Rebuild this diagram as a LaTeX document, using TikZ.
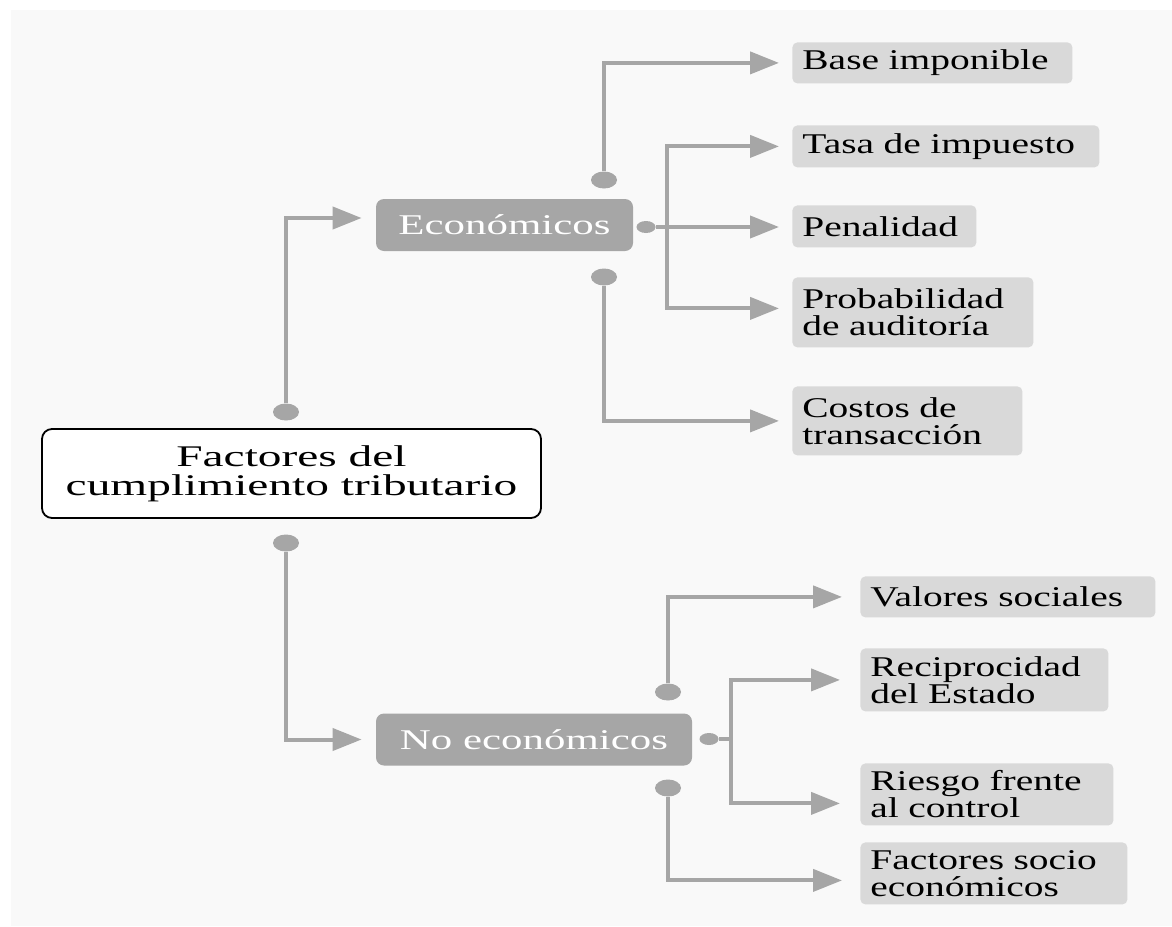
\documentclass[tikz,border=0pt]{standalone}
\usepackage{fontspec}
\setmainfont{Liberation Serif}
\newfontfamily\leaffont[FakeStretch=1.38]{Liberation Serif}
\newfontfamily\groupfont[FakeStretch=1.5]{Liberation Serif}
\newfontfamily\rootfont[FakeStretch=1.58]{Liberation Serif}
\usetikzlibrary{arrows.meta,shapes.geometric}
\definecolor{linkgray}{HTML}{A6A6A6}
\definecolor{leafgray}{HTML}{D9D9D9}
\definecolor{paper}{HTML}{F9F9F9}

\begin{document}
\begin{tikzpicture}[x=0.5pt,y=-0.5pt,
    linkline/.style={draw=linkgray,line width=2pt},
    link/.style={linkline,-{Triangle[length=14.5pt,width=11pt]}},
    knob/.style={ellipse,fill=linkgray,inner sep=0pt,minimum width=13pt,minimum height=8.5pt},
    knobsmall/.style={knob,minimum width=9.5pt,minimum height=6pt},
    rootbox/.style={draw=black,line width=0.9pt,fill=white,rounded corners=5pt,
        minimum width=249.5pt,minimum height=44.5pt,align=center,
        font=\rootfont\fontsize{15}{14.5}\selectfont},
    groupbox/.style={fill=linkgray,text=white,rounded corners=4pt,minimum height=26pt,
        font=\groupfont\fontsize{14.3}{13.5}\selectfont},
    leafbox/.style={fill=leafgray,rounded corners=2.5pt,inner xsep=5pt,inner ysep=0pt,
        align=left,anchor=north west,font=\leaffont\fontsize{14.3}{13.5}\selectfont}]
    %/ Background
    \fill[paper] (11,10) rectangle (1172,926);
    \useasboundingbox (0,0) rectangle (1172,926);

    %/ Main boxes
    \node[rootbox] (root) at (291.5,473.5) {Factores del\\cumplimiento tributario};
    \node[groupbox,minimum width=128.5pt] (eco) at (504.5,225) {Económicos};
    \node[groupbox,minimum width=158pt] (noeco) at (534,739.5) {No económicos};

    %/ Leaves
    \foreach \name/\x/\y/\tw/\bh/\txt in {
      base/792/42/130/20.5/Base imponible,
      tasa/792/125/143.5/21/Tasa de impuesto,
      pen/792/205/82/21/Penalidad,
      prob/792/277/110.5/35/Probabilidad\\de auditoría,
      costos/792/386/105/34.5/Costos de\\transacción,
      valores/860/576/137.5/20.5/Valores sociales,
      recip/860/648/114/31.5/Reciprocidad\\del Estado,
      riesgo/860/763/116.5/31/Riesgo frente\\al control,
      socio/860/842/123.5/31/Factores socio\\económicos}
    \node[leafbox,text width=\tw pt,minimum height=\bh pt] (\name) at (\x,\y) {\txt};

    %/ Dots
    \node[knob] (rootup) at (286,412) {};
    \node[knob] (rootdown) at (286,543) {};
    \node[knob] (ecoup) at (604,180) {};
    \node[knob] (ecodown) at (604,277) {};
    \node[knobsmall] (ecoside) at (646,227) {};
    \node[knob] (noecoup) at (668,692) {};
    \node[knob] (noecodown) at (668,788) {};
    \node[knobsmall] (noecoside) at (709,739) {};
    \coordinate (ecofork) at (667,227);
    \coordinate (noecofork) at (731,739);

    %/ Connectors
    \draw[link,shorten >=7pt] (rootup) |- ([yshift=3.5pt]eco.west);
    \draw[link,shorten >=7pt] (rootdown) |- (noeco.west);

    \draw[link,shorten >=6.5pt] (ecoup) |- (base.west);
    \draw[link,shorten >=6.5pt] (ecodown) |- (costos.west);
    \draw[linkline] (ecoside) -- (ecofork);
    \draw[link,shorten >=6.5pt] (ecofork) |- (tasa.west);
    \draw[link,shorten >=6.5pt] (ecofork) -- (ecofork -| pen.west);
    \draw[link,shorten >=6.5pt] (ecofork) |- ([yshift=2pt]prob.west);

    \draw[link,shorten >=9pt] (noecoup) |- (valores.west);
    \draw[link,shorten >=9pt] (noecodown) |- ([yshift=-3.5pt]socio.west);
    \draw[linkline] (noecoside) -- (noecofork);
    \draw[link,shorten >=10pt] (noecofork) |- (recip.west);
    \draw[link,shorten >=10pt] (noecofork) |- ([yshift=-4.5pt]riesgo.west);
\end{tikzpicture}
\end{document}
